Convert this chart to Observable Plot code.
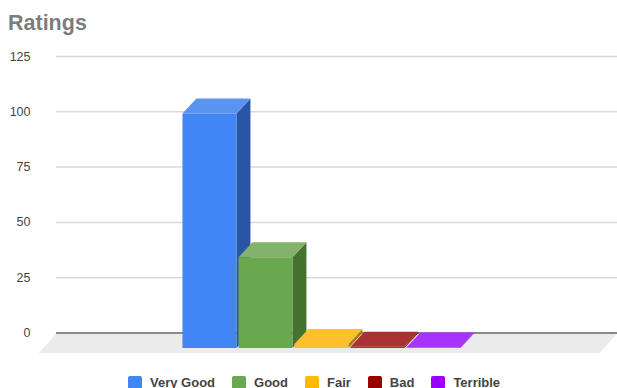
<!DOCTYPE html>
<html>
<head>
<meta charset="utf-8">
<script src="https://cdn.jsdelivr.net/npm/d3@7"></script>
<script src="https://cdn.jsdelivr.net/npm/@observablehq/plot@0.6"></script>
<style>
  html, body { margin: 0; padding: 0; background: #fff; width: 617px; height: 388px; overflow: hidden; }
  body { font-family: "Liberation Sans", Arial, sans-serif; }
  #title { height: 42px; box-sizing: border-box; padding: 11px 0 0 8px; font-size: 21.5px; line-height: 25px; font-weight: 700; color: #7d7d7d; }
  #chart svg { display: block; overflow: visible; }
  #legend { display: flex; height: 24px; padding: 6px 0 0 128px; align-items: center; font-size: 13px; font-weight: 700; color: #444; }
  #legend .item { display: flex; align-items: center; margin-right: 17px; }
  #legend .swatch { width: 14px; height: 13px; border-radius: 2px; margin-right: 8px; }
</style>
</head>
<body>
<div id="title">Ratings</div>
<div id="chart"></div>
<div id="legend"></div>
<script>
const categories = ["Very Good", "Good", "Fair", "Bad", "Terrible"];
const ratings = [106, 41, 1.8, 0.6, 0.2];
const legendColors = ["#4285f4", "#6aa84f", "#ffb900", "#990000", "#9900ff"];
const frontColors = ["#4285f4", "#6aa84f", "#fcc02e", "#a93232", "#a833ff"];
const topColors = ["#5b93f0", "#82b26c", "#fcc02e", "#a93232", "#a833ff"];
const sideColors = ["#2a55a5", "#46722f", "#a67c10", "#6a0000", "#6a00b0"];
const yTicks = [0, 25, 50, 75, 100, 125];

// Category slots run left to right; each bar is slightly narrower than its slot.
const barWidth = 0.964;
// Bar depth, in scale units: the front face sits forward and below the back plane.
const depthX = 0.25;
const depthY = 6.8;
// The floor extends further forward than the bars.
const floorX = 0.32;
const floorY = 9.2;
const xDomain = [-2.25, 7.77];

const floor = [
  [xDomain[0], 0], [xDomain[1], 0],
  [xDomain[1] - floorX, -floorY], [xDomain[0] - floorX, -floorY]
].map(([x, y]) => ({x, y, face: "floor", fill: "#ebebeb"}));

const faces = ratings.flatMap((v, i) => {
  const l = i, r = i + barWidth;
  const side = [[r, v - depthY], [r + depthX, v], [r + depthX, 0], [r, -depthY]];
  const top = [[l, v - depthY], [l + depthX, v], [r + depthX, v], [r, v - depthY]];
  const front = [[l, -depthY], [l, v - depthY], [r, v - depthY], [r, -depthY]];
  return [
    ...side.map(([x, y]) => ({x, y, face: `${i}-side`, fill: sideColors[i]})),
    ...top.map(([x, y]) => ({x, y, face: `${i}-top`, fill: topColors[i]})),
    ...front.map(([x, y]) => ({x, y, face: `${i}-front`, fill: frontColors[i]}))
  ];
});

const polygon = (data) => Plot.line(data, {
  x: "x", y: "y", z: "face", fill: "fill", stroke: null, curve: "linear-closed"
});

const plot = Plot.plot({
  width: 617,
  height: 322,
  marginLeft: 56,
  marginRight: 0,
  marginTop: 14,
  marginBottom: 31.5,
  style: {background: "transparent", overflow: "visible"},
  x: {domain: xDomain, axis: null},
  y: {domain: [0, 125], axis: null},
  color: {type: "identity"},
  marks: [
    polygon(floor),
    Plot.ruleY(yTicks.filter((d) => d > 0), {stroke: "#d9d9d9", strokeWidth: 1.5}),
    Plot.ruleY([0], {stroke: "#666", strokeWidth: 1.5}),
    Plot.axisY(yTicks, {
      anchor: "left", tickSize: 0, tickPadding: 26, label: null,
      fontSize: 12.5, fontFamily: "Liberation Sans, Arial, sans-serif", color: "#444"
    }),
    polygon(faces)
  ]
});
document.getElementById("chart").append(plot);

const legend = document.getElementById("legend");
categories.forEach((name, i) => {
  const item = document.createElement("div");
  item.className = "item";
  const swatch = document.createElement("span");
  swatch.className = "swatch";
  swatch.style.background = legendColors[i];
  const label = document.createElement("span");
  label.textContent = name;
  item.append(swatch, label);
  legend.append(item);
});
</script>
</body>
</html>
